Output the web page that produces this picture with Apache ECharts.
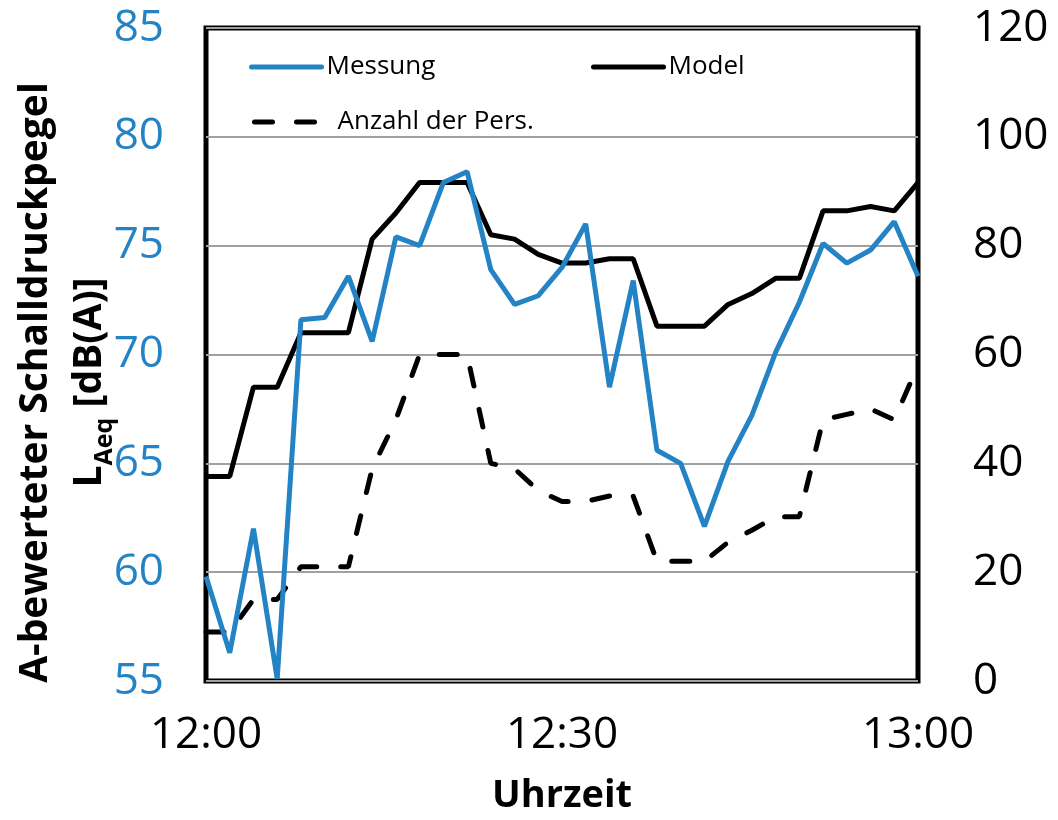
<!DOCTYPE html>
<html>
<head>
<meta charset="utf-8">
<script src="https://cdn.jsdelivr.net/npm/echarts@6/dist/echarts.min.js"></script>
<style>
html,body{margin:0;padding:0;background:#fff;}
#chart{width:1058px;height:820px;}
</style>
</head>
<body>
<div id="chart"></div>
<script>
// minutes after 12:00
const minutes = [0,2,4,6,8,10,12,14,16,18,20,22,24,26,28,30,32,34,36,38,40,42,44,46,48,50,52,54,56,58,60];
// Messung, L_Aeq [dB(A)]
const messung = [59.8,56.3,62.0,55.1,71.6,71.7,73.6,70.6,75.4,75.0,77.9,78.4,73.9,72.3,72.7,74.0,76.0,68.5,73.4,65.6,65.0,62.1,65.1,67.2,70.1,72.4,75.1,74.2,74.8,76.1,73.6];
// Model, L_Aeq [dB(A)]
const model = [64.4,64.4,68.5,68.5,71.0,71.0,71.0,75.3,76.5,77.9,77.9,77.9,75.5,75.3,74.6,74.2,74.2,74.4,74.4,71.3,71.3,71.3,72.3,72.8,73.5,73.5,76.6,76.6,76.8,76.6,77.9];
// Anzahl der Personen
const personen = [9,9,15,15,21,21,21,39,48,60,60,60,40,39,35,33,33,34,34,22,22,22,25.5,27.7,30.2,30.2,48,49,50,48,58];
// x tick labels
const xTickLabels = {0:'12:00',30:'12:30',60:'13:00'};

const FONT = 'Open Sans';
const BLUE = '#2383c5';

function pairs(vals){ return minutes.map((m,i)=>[m, vals[i]]); }

function legendFor(name, left, top, lineStyle, textPad){
  return {data:[name],left:left,top:top,itemWidth:70,itemHeight:14,selectedMode:false,
    itemStyle:{opacity:0},lineStyle:lineStyle,
    textStyle:{fontSize:26,fontFamily:FONT,color:'#000',padding:textPad||0}};
}

const chart = echarts.init(document.getElementById('chart'), null, {renderer:'canvas'});
chart.setOption({
  animation:false,
  backgroundColor:'#fff',
  textStyle:{fontFamily:FONT},
  grid:{left:206,right:140,top:28,bottom:139,show:true,borderColor:'#000',borderWidth:5,
        backgroundColor:'transparent',containLabel:false,outerBoundsMode:'none'},
  legend:[
    legendFor('Messung',244,49,{color:BLUE,width:5,type:'solid',cap:'round'}),
    legendFor('Model',586,49,{color:'#000',width:5,type:'solid',cap:'round'}),
    legendFor('Anzahl der Pers.',247,104,{color:'#000',width:5,type:[18,24],cap:'round'},[0,0,0,8])
  ],
  xAxis:{
    type:'value',min:0,max:60,interval:30,
    axisLine:{show:false},axisTick:{show:false},splitLine:{show:false},
    axisLabel:{fontSize:44,color:'#000',fontFamily:FONT,margin:32,formatter:v=>xTickLabels[v]||''},
    name:'Uhrzeit',nameLocation:'middle',nameGap:96,
    nameTextStyle:{fontSize:38,fontWeight:'bold',color:'#000',fontFamily:FONT}
  },
  yAxis:[
    {
      type:'value',min:55,max:85,interval:5,position:'left',
      axisLine:{show:false},axisTick:{show:false},
      splitLine:{show:true,lineStyle:{color:'#a0a0a0',width:2}},
      axisLabel:{fontSize:44,color:BLUE,fontFamily:FONT,margin:42},
      name:'{a|A-bewerteter Schalldruckpegel}\n{b|L}{s|Aeq}{b| [dB(A)]}',
      nameLocation:'middle',nameRotate:90,nameGap:89,nameMoveOverlap:false,
      nameTextStyle:{
        color:'#000',fontFamily:FONT,fontWeight:'bold',padding:[0,56,0,0],
        rich:{
          a:{fontSize:39,fontWeight:'bold',fontFamily:FONT,color:'#000',lineHeight:54},
          b:{fontSize:39,fontWeight:'bold',fontFamily:FONT,color:'#000',lineHeight:54},
          s:{fontSize:25,fontWeight:'bold',fontFamily:FONT,color:'#000',lineHeight:24,verticalAlign:'bottom'}
        }
      }
    },
    {
      type:'value',min:0,max:120,interval:20,position:'right',
      axisLine:{show:false},axisTick:{show:false},splitLine:{show:false},
      axisLabel:{fontSize:44,color:'#000',fontFamily:FONT,margin:55}
    }
  ],
  series:[
    {name:'Messung',type:'line',yAxisIndex:0,data:pairs(messung),symbol:'none',
     lineStyle:{color:BLUE,width:5},itemStyle:{color:BLUE},z:3},
    {name:'Model',type:'line',yAxisIndex:0,data:pairs(model),symbol:'none',
     lineStyle:{color:'#000',width:5},itemStyle:{color:'#000'},z:2},
    {name:'Anzahl der Pers.',type:'line',yAxisIndex:1,data:pairs(personen),symbol:'none',
     lineStyle:{color:'#000',width:5,type:[18,24],cap:'round'},itemStyle:{color:'#000'},z:2}
  ]
});
</script>
</body>
</html>
